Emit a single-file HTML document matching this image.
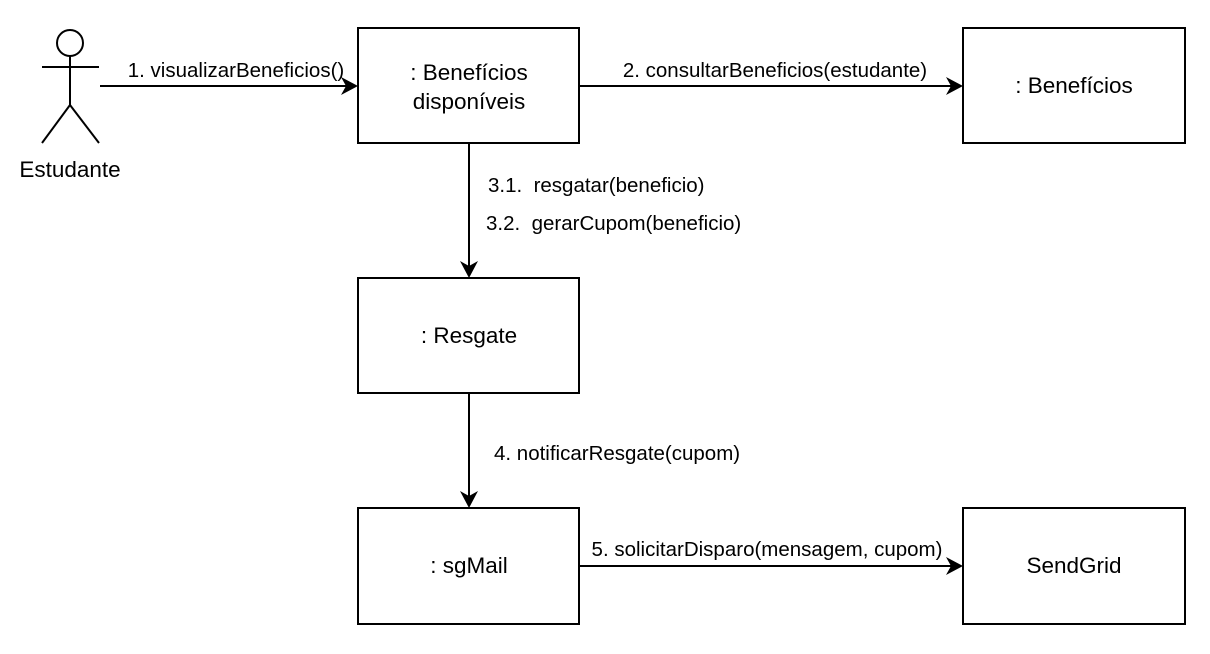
<!DOCTYPE html>
<html><head><meta charset="utf-8"><style>
html,body{margin:0;padding:0;background:#fff;}
text{white-space:pre;}
</style></head><body>
<svg width="1210" height="649" viewBox="0 0 1210 649" xmlns="http://www.w3.org/2000/svg" font-family="Liberation Sans, Arial, sans-serif">
<rect width="1210" height="649" fill="#fff"/>
<g stroke="#000" stroke-width="2" fill="none">
<circle cx="70" cy="43" r="13"/>
<line x1="70" y1="56" x2="70" y2="105"/>
<line x1="42" y1="67" x2="99" y2="67"/>
<line x1="70" y1="105" x2="42" y2="143"/>
<line x1="70" y1="105" x2="99" y2="143"/>
<rect x="358" y="28" width="221" height="115" fill="#fff"/>
<rect x="963" y="28" width="222" height="115" fill="#fff"/>
<rect x="358" y="278" width="221" height="115" fill="#fff"/>
<rect x="358" y="508" width="221" height="116" fill="#fff"/>
<rect x="963" y="508" width="222" height="116" fill="#fff"/>
<line x1="100" y1="86" x2="346" y2="86"/>
<line x1="579" y1="86" x2="951" y2="86"/>
<line x1="469" y1="143" x2="469" y2="266"/>
<line x1="469" y1="393" x2="469" y2="496"/>
<line x1="579" y1="566" x2="951" y2="566"/>
</g>
<g fill="#000">
<polygon points="358,86 341,77 346,86 341,95"/>
<polygon points="963,86 946,77 951,86 946,95"/>
<polygon points="469,278 460,261 469,266 478,261"/>
<polygon points="469,508 460,491 469,496 478,491"/>
<polygon points="963,566 946,557 951,566 946,575"/>
</g>
<g font-size="20.5" fill="#000">
<text x="236" y="77" text-anchor="middle">1. visualizarBeneficios()</text>
<text x="775" y="77" text-anchor="middle">2. consultarBeneficios(estudante)</text>
<text x="488" y="192" xml:space="preserve">3.1.  resgatar(beneficio)</text>
<text x="486" y="230" xml:space="preserve">3.2.  gerarCupom(beneficio)</text>
<text x="494" y="460">4. notificarResgate(cupom)</text>
<text x="767" y="556" text-anchor="middle">5. solicitarDisparo(mensagem, cupom)</text>
</g>
<g font-size="22.5" fill="#000" text-anchor="middle">
<text x="70" y="177">Estudante</text>
<text x="469" y="80">: Benefícios</text>
<text x="469" y="109">disponíveis</text>
<text x="1074" y="93">: Benefícios</text>
<text x="469" y="343">: Resgate</text>
<text x="469" y="573">: sgMail</text>
<text x="1074" y="573">SendGrid</text>
</g>
</svg>
</body></html>
